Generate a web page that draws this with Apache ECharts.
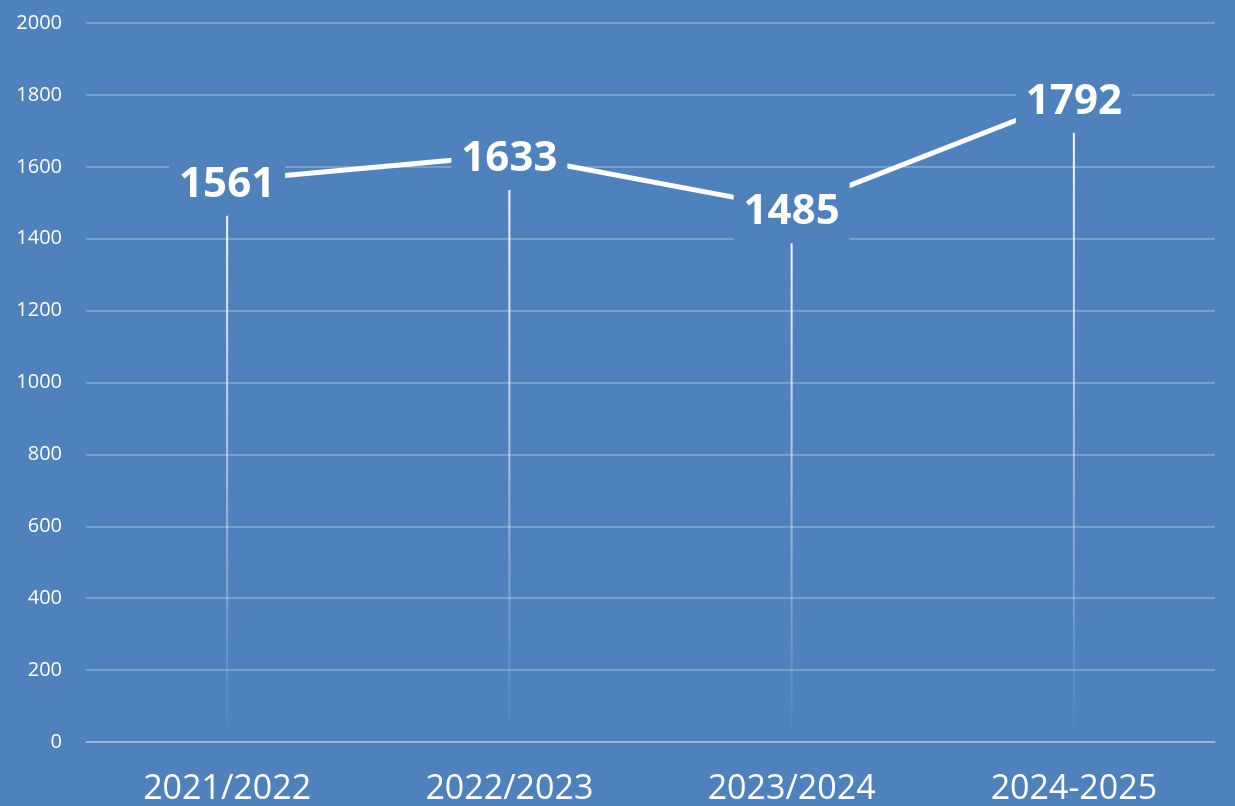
<!DOCTYPE html>
<html>
<head>
<meta charset="utf-8">
<script src="https://cdn.jsdelivr.net/npm/echarts@6/dist/echarts.min.js"></script>
<style>
  html, body { margin: 0; padding: 0; background: #4f81bd; }
  #main { width: 1235px; height: 806px; }
</style>
</head>
<body>
<div id="main"></div>
<script>
var categories = ['2021/2022', '2022/2023', '2023/2024', '2024-2025'];
var values = [1561, 1633, 1485, 1792];
var yTicks = [0, 200, 400, 600, 800, 1000, 1200, 1400, 1600, 1800, 2000];

var bg = '#4f81bd';
var gridColor = 'rgba(255,255,255,0.32)';

var chart = echarts.init(document.getElementById('main'));

var option = {
  backgroundColor: bg,
  animation: false,
  grid: { left: 86, right: 20, top: 23, bottom: 63 },
  xAxis: {
    type: 'category',
    data: categories,
    boundaryGap: true,
    axisLine: { lineStyle: { color: gridColor, width: 1.5 } },
    axisTick: { show: false },
    axisLabel: {
      color: '#fff',
      fontFamily: 'Open Sans',
      fontSize: 34,
      margin: 30
    }
  },
  yAxis: {
    type: 'value',
    min: yTicks[0],
    max: yTicks[yTicks.length - 1],
    interval: 200,
    axisLine: { show: false },
    axisTick: { show: false },
    splitLine: { lineStyle: { color: gridColor, width: 1.5 } },
    axisLabel: {
      color: '#fff',
      fontFamily: 'Open Sans',
      fontSize: 20,
      margin: 24,
      formatter: function (v) { return String(v); }
    }
  },
  series: [
    {
      // drop lines
      type: 'bar',
      data: values,
      barWidth: 2,
      z: 1,
      itemStyle: {
        color: new echarts.graphic.LinearGradient(0, 0, 0, 1, [
          { offset: 0, color: 'rgba(255,255,255,1)' },
          { offset: 1, color: 'rgba(255,255,255,0)' }
        ])
      },
      silent: true
    },
    {
      type: 'line',
      data: values,
      z: 3,
      symbol: 'circle',
      symbolSize: 1,
      showSymbol: true,
      itemStyle: { color: '#fff' },
      lineStyle: { color: '#fff', width: 5 },
      label: {
        show: true,
        position: 'inside',
        offset: [0, 4],
        color: '#fff',
        fontFamily: 'Open Sans',
        fontWeight: 'bold',
        fontSize: 42,
        backgroundColor: bg,
        padding: [10, 10]
      }
    }
  ]
};

chart.setOption(option);
</script>
</body>
</html>
